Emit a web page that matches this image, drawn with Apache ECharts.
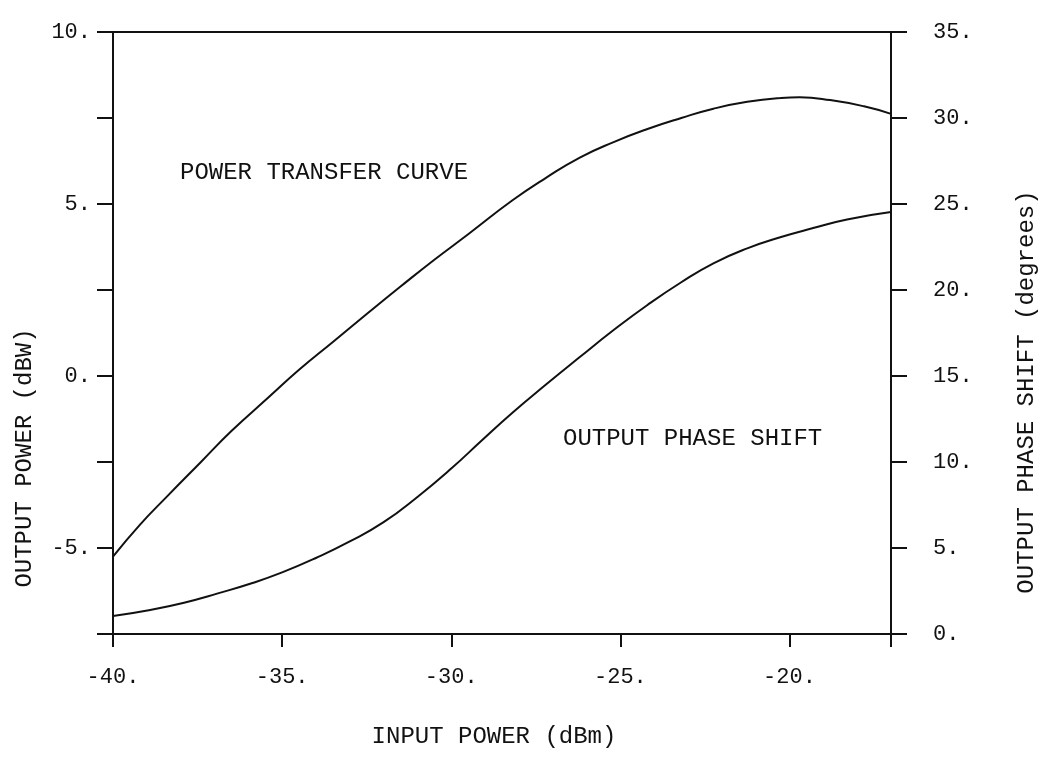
<!DOCTYPE html>
<html>
<head>
<meta charset="utf-8">
<script src="https://cdn.jsdelivr.net/npm/echarts@6/dist/echarts.min.js"></script>
<style>
  html, body { margin: 0; padding: 0; background: #ffffff; }
  #chart { width: 1044px; height: 767px; }
</style>
</head>
<body>
<div id="chart"></div>
<script>
// Power transfer curve: input power (dBm) -> output power (dBW)
const powerInput  = [-40, -39.2, -38.4, -37.4, -36.5, -35.4, -34.5, -33.5, -32.5, -31.5, -30.5, -29.5, -28.2, -27.2, -26.2, -25.2, -24.2, -23.2, -22.25, -21.25, -20.25, -19.7, -18.8, -17.8, -17];
const powerOutput = [-5.25, -4.32, -3.5, -2.5, -1.6, -0.62, 0.18, 0.99, 1.8, 2.6, 3.38, 4.12, 5.1, 5.76, 6.35, 6.8, 7.18, 7.5, 7.77, 7.97, 8.08, 8.1, 8.02, 7.84, 7.62];

// Output phase shift: input power (dBm) -> degrees
const phaseInput = [-40, -38.9, -37.9, -36.9, -35.9, -35, -34, -33, -32, -31, -30, -29.1, -28.2, -27.2, -26.2, -25.2, -24.2, -23.2, -22.25, -21.25, -20.25, -19.3, -18.3, -17];
const phaseShift = [1.05, 1.4, 1.82, 2.36, 2.95, 3.58, 4.42, 5.38, 6.5, 7.97, 9.62, 11.25, 12.85, 14.5, 16.1, 17.67, 19.13, 20.45, 21.55, 22.42, 23.08, 23.6, 24.1, 24.53];

// Tick labels
const xTickLabels = { '-40': '-40.', '-35': '-35.', '-30': '-30.', '-25': '-25.', '-20': '-20.' };
const leftTickLabels = { '10': '10.', '5': '5.', '0': '0.', '-5': '-5.' };
const rightTickLabels = { '0': '0.', '5': '5.', '10': '10.', '15': '15.', '20': '20.', '25': '25.', '30': '30.', '35': '35.' };

const FONT = '"Liberation Mono", "DejaVu Sans Mono", monospace';
const INK = '#111111';

const pair = (xs, ys) => xs.map((x, i) => [x, ys[i]]);

const axisLine = { show: true, onZero: false, lineStyle: { color: INK, width: 2 } };
const labelStyle = { color: INK, fontFamily: FONT, fontSize: 22 };

const chart = echarts.init(document.getElementById('chart'), null, { renderer: 'canvas' });

chart.setOption({
  backgroundColor: '#ffffff',
  animation: false,
  grid: {
    left: 113, right: 153, top: 32, bottom: 133,
    show: true, borderColor: INK, borderWidth: 2, backgroundColor: 'transparent'
  },
  xAxis: {
    type: 'value', min: -40, max: -17, interval: 5,
    axisLine: axisLine,
    axisTick: { show: true, inside: false, length: 13, lineStyle: { color: INK, width: 2 } },
    splitLine: { show: false },
    axisLabel: {
      ...labelStyle, margin: 32,
      formatter: v => xTickLabels[String(v)] || ''
    }
  },
  yAxis: [
    {
      type: 'value', position: 'left', min: -7.5, max: 10, interval: 2.5,
      axisLine: axisLine,
      axisTick: { show: true, inside: false, length: 16, lineStyle: { color: INK, width: 2 } },
      splitLine: { show: false },
      axisLabel: { ...labelStyle, margin: 22, formatter: v => leftTickLabels[String(v)] || '' }
    },
    {
      type: 'value', position: 'right', min: 0, max: 35, interval: 5,
      axisLine: axisLine,
      axisTick: { show: true, inside: false, length: 16, lineStyle: { color: INK, width: 2 } },
      splitLine: { show: false },
      axisLabel: { ...labelStyle, margin: 42, formatter: v => rightTickLabels[String(v)] || '' }
    }
  ],
  series: [
    {
      name: 'POWER TRANSFER CURVE', type: 'line', yAxisIndex: 0,
      data: pair(powerInput, powerOutput), smooth: 0.5, showSymbol: false,
      lineStyle: { color: INK, width: 2 }
    },
    {
      name: 'OUTPUT PHASE SHIFT', type: 'line', yAxisIndex: 1,
      data: pair(phaseInput, phaseShift), smooth: 0.5, showSymbol: false,
      lineStyle: { color: INK, width: 2 }
    }
  ],
  graphic: [
    {
      type: 'text', left: 180, top: 161,
      style: { text: 'POWER TRANSFER CURVE', fill: INK, font: '24px ' + FONT }
    },
    {
      type: 'text', left: 563, top: 427,
      style: { text: 'OUTPUT PHASE SHIFT', fill: INK, font: '24px ' + FONT }
    },
    {
      type: 'text', x: 494, y: 737,
      style: { text: 'INPUT POWER (dBm)', fill: INK, font: '24px ' + FONT, align: 'center', verticalAlign: 'middle' }
    },
    {
      type: 'text', x: 25, y: 458, rotation: Math.PI / 2,
      style: { text: 'OUTPUT POWER (dBW)', fill: INK, font: '24px ' + FONT, align: 'center', verticalAlign: 'middle' }
    },
    {
      type: 'text', x: 1027, y: 392, rotation: Math.PI / 2,
      style: { text: 'OUTPUT PHASE SHIFT (degrees)', fill: INK, font: '24px ' + FONT, align: 'center', verticalAlign: 'middle' }
    }
  ]
});
</script>
</body>
</html>
